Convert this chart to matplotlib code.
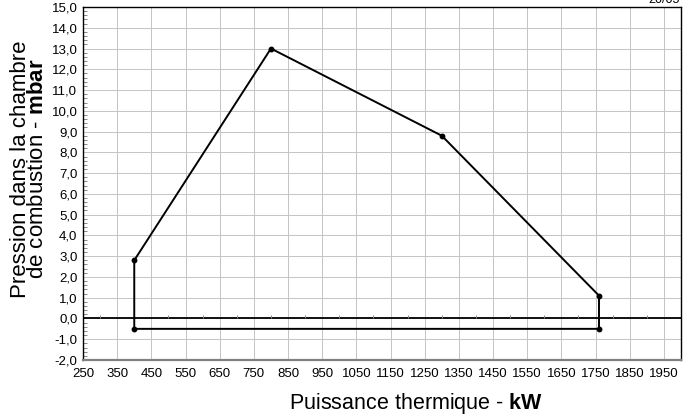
import matplotlib
matplotlib.use("Agg")
import matplotlib.pyplot as plt
from matplotlib.ticker import MultipleLocator, FuncFormatter
import numpy as np

plt.rcParams['font.family'] = ['Liberation Sans', 'DejaVu Sans']
plt.rcParams['mathtext.fontset'] = 'custom'
plt.rcParams['mathtext.rm'] = 'Liberation Sans'
plt.rcParams['mathtext.bf'] = 'Liberation Sans:bold'

# Data: working range polygon (kW, mbar)
power_kw = [400, 800, 1300, 1760, 1760, 400, 400]
pressure_mbar = [2.8, 13.0, 8.8, 1.1, -0.5, -0.5, 2.8]
x_ticks = list(range(250, 2000, 100))
y_ticks = list(range(-2, 16, 1))
zero_minor_x = list(range(300, 2000, 100))

fig = plt.figure(figsize=(6.9, 4.16), dpi=100)
ax = fig.add_axes([83/690, 1-360/416, (681-83)/690, (360-7)/416])

ax.set_xlim(250, 2000)
ax.set_ylim(-2, 15)
ax.set_xticks(x_ticks)
ax.set_yticks(y_ticks)
ax.yaxis.set_minor_locator(MultipleLocator(0.2))
ax.yaxis.set_major_formatter(FuncFormatter(lambda v, p: f"{v:.1f}".replace('.', ',')))

ax.grid(True, which='major', color='#c4c4c4', lw=0.7)
ax.set_axisbelow(True)

ax.tick_params(axis='both', which='major', length=0, labelsize=9.5, pad=4)
ax.tick_params(axis='y', which='minor', direction='in', length=3, color='#888888', width=0.7)
ax.tick_params(axis='x', which='major', pad=6)

for s in ['left', 'right', 'top']:
    ax.spines[s].set_color('black')
    ax.spines[s].set_linewidth(1.0)
ax.spines['bottom'].set_color('#808080')
ax.spines['bottom'].set_linewidth(1.6)

# zero axis line with small ticks
ax.axhline(0, color='black', lw=1.3, zorder=2)
ax.vlines(zero_minor_x, 0, 0.15, color='#888888', lw=0.7, zorder=2)

ax.plot(power_kw, pressure_mbar, color='black', lw=1.4, zorder=3)
ax.plot(power_kw[:-1], pressure_mbar[:-1], 'o', color='black', ms=3.2, zorder=4)

fig.text(0.603, 0.016, r"Puissance thermique - $\mathbf{kW}$", ha='center', va='baseline', fontsize=15.5)
fig.text(0.042, 0.594, "Pression dans la chambre\n" + r"de combustion - $\mathbf{mbar}$",
         rotation=90, ha='center', va='center', fontsize=16, linespacing=0.8, multialignment='center')

fig.text(0.985, 1 - 3/416, "20/05", ha='right', va='baseline', fontsize=9)

fig.savefig("out.png", dpi=100)
